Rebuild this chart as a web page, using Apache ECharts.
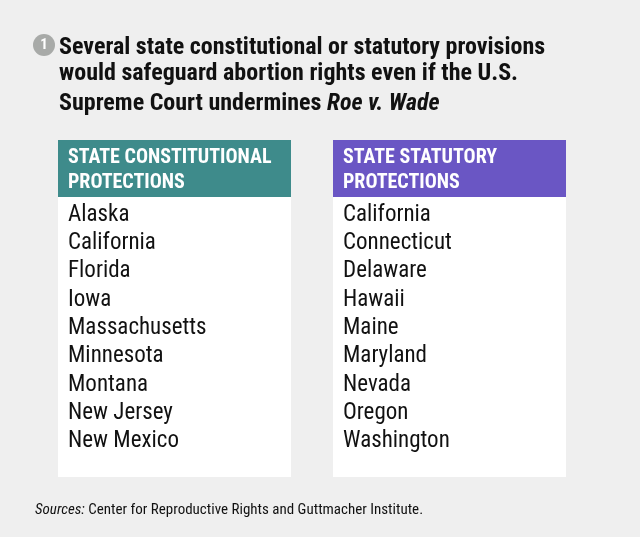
<!DOCTYPE html>
<html><head><meta charset="utf-8">
<script src="https://cdn.jsdelivr.net/npm/echarts@6/dist/echarts.min.js"></script>
<style>html,body{margin:0;padding:0;background:#efefef}#c{width:640px;height:537px}</style>
</head><body><div id="c"></div>
<script>
var titleLines = ["Several state constitutional or statutory provisions", "would safeguard abortion rights even if the U.S."];
var titleLast = ["Supreme Court undermines ", "Roe v. Wade"];
var headerLeft = ["STATE CONSTITUTIONAL", "PROTECTIONS"];
var headerRight = ["STATE STATUTORY", "PROTECTIONS"];
var constitutionalStates = ["Alaska","California","Florida","Iowa","Massachusetts","Minnesota","Montana","New Jersey","New Mexico"];
var statutoryStates = ["California","Connecticut","Delaware","Hawaii","Maine","Maryland","Nevada","Oregon","Washington"];
var sourceLabel = "Sources:";
var sourceText = " Center for Reproductive Rights and Guttmacher Institute.";

var F = '"Liberation Sans Narrow","Roboto Condensed","Liberation Sans",sans-serif';
var chart = echarts.init(document.getElementById('c'));
var g = [];
g.push({type:'circle',shape:{cx:44,cy:45,r:11},style:{fill:'#a8aaa8'}});
g.push({type:'text',x:44,y:45,style:{text:'1',fill:'#fff',font:'bold 15px '+F,align:'center',verticalAlign:'middle'}});
titleLines.forEach(function(t,i){g.push({type:'text',x:59,y:48+i*26,style:{text:t,fill:'#111',font:'bold 24px '+F,verticalAlign:'middle'}});});
g.push({type:'text',x:59,y:104,style:{rich:{a:{font:'bold 24px '+F,fill:'#111'},b:{font:'italic bold 24px '+F,fill:'#111'}},text:'{a|'+titleLast[0]+'}{b|'+titleLast[1]+'}',verticalAlign:'middle'}});
function box(x,color,hdr,items){
  g.push({type:'rect',shape:{x:x,y:197,width:233,height:280},style:{fill:'#fff'}});
  g.push({type:'rect',shape:{x:x,y:140,width:233,height:57},style:{fill:color}});
  hdr.forEach(function(t,i){g.push({type:'text',x:x+10,y:158+i*25,style:{text:t,fill:'#fff',font:'bold 20px '+F,verticalAlign:'middle'}});});
  items.forEach(function(t,i){g.push({type:'text',x:x+10,y:215+i*28.3,style:{text:t,fill:'#111',font:'23px '+F,verticalAlign:'middle'}});});
}
box(58,'#3e8b8b',headerLeft,constitutionalStates);
box(333,'#6a56c4',headerRight,statutoryStates);
g.push({type:'text',x:35,y:510,style:{rich:{a:{font:'italic 15px '+F,fill:'#111'},b:{font:'15px '+F,fill:'#111'}},text:'{a|'+sourceLabel+'}{b|'+sourceText+'}',verticalAlign:'middle'}});
chart.setOption({backgroundColor:'#efefef',graphic:g});
</script></body></html>
